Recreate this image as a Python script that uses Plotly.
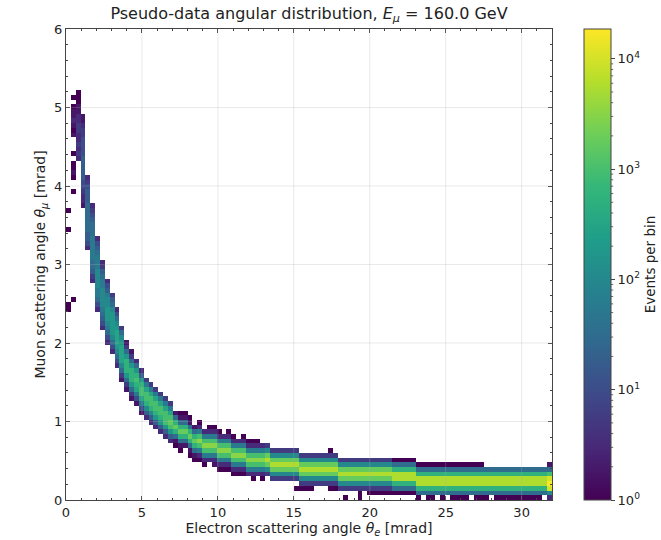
import numpy as np
import plotly.graph_objects as go

# ---------------- data ----------------
# 2D histogram: 100 x-bins over theta_e in [0, 32] mrad, 100 y-bins over theta_mu in [0, 6] mrad
x_lo, x_hi, n_xbins = 0.0, 32.0, 100
y_lo, y_hi, n_ybins = 0.0, 6.0, 100

# count level per cell: character index k in LEVELS -> 10**(k/4) events ('.' = empty)
LEVELS = "0123456789abcdefgh"

# first occupied y-bin of every x-bin column
col_start = [
    40, 42, 72, 62, 53, 46, 40, 36, 33, 31,
    28, 25, 23, 21, 20, 18, 17, 16, 15, 14,
    13, 12, 11, 10, 11, 9, 8, 8, 7, 8,
    7, 6, 6, 6, 5, 5, 5, 5, 4, 5,
    4, 5, 4, 4, 4, 4, 4, 2, 2, 2,
    2, 3, 3, 3, 2, 2, 2, 0, 2, 2,
    0, 2, 1, 1, 1, 1, 1, 1, 1, 1,
    1, 1, 0, 0, 0, 0, 0, 0, 0, 0,
    0, 0, 0, 0, 0, 0, 0, 0, 0, 0,
    0, 0, 0, 0, 0, 0, 0, 0, 0, 0,
]

# cell levels of every column, from the first occupied y-bin upward
col_cells = [
    "00" + "." * 15 + "0...0",
    "0" + "." * 22 + "0..0100.0...1012110.0",
    "232322332211000",
    "12234455555444433211",
    "2455666666555432",
    "23566777776665432",
    "2467788887776542",
    "245678888776532",
    "24678999887542",
    "2468999998653",
    "24689aaa98642",
    "1368aaaa9863",
    "1369bbb9631",
    "1369bbb9631",
    "147abcb962",
    "147accb952",
    "258bcca73",
    "258bcca73",
    "259bcca73",
    "259bcca73",
    "259ccca73",
    "259cdca73",
    "016bdb61",
    "016bdb610",
    "16bdb610",
    "016bdb610",
    "016bdb61",
    "027cec720",
    "027cec72",
    "27cec720",
    "127cec720",
    "027cec720",
    "027cec72",
    "027cec720",
    "027cec720",
    "027cec72",
    "027cec720",
    "27cec720",
    "027cec720",
    "27cec720",
    "027cec72",
    "38dfd83",
    "38dfd83",
    "38dfd83",
    "38dfd83",
    "38dfd83",
    "38dfd83",
    "0.38dfd83",
    "038dfd83",
    "038dfd83",
    "038dfd83",
    "38dfd83",
    "38dfd83",
    "38dfd83",
    "038dfd830",
    "038dfd83",
    "38dfd83",
    "0.38dfd83",
    "38dfd83",
    "38dfd83",
    "0038dfd83",
    "38dfd83",
    "038dfd83",
    "038dfd83",
    "038dfd83",
    "038dfd83",
    "038dfd83",
    "06bffb60",
    "06bffb60",
    "06bffb60",
    "06bffb60",
    "06bffb60",
    "06bffb60",
    ".6bffb60",
    "06bffb60",
    "06bffb60",
    ".6bffb60",
    "06bffb60",
    ".6bffb60",
    "06bffb60",
    "06bffb60",
    "06bffb60",
    "06bffb60",
    ".6bffb60",
    "06bffb60",
    "06bffb60",
    "06bffb6",
    ".6bffb6",
    "06bffb6",
    "06bffb6",
    "06bffb6",
    "06bffb6",
    "06bffb6",
    "06bffb6",
    "06bffb6",
    "06bffb6",
    "06bffb6",
    "06bffb6",
    ".6bffb6",
    "28ghgc61",
]

cbar_log_max = 4.27          # colour scale: 10^0 ... ~1.9e4 events
cbar_major = [0, 1, 2, 3, 4]

# ---------------- build histogram ----------------
x_edges = np.linspace(x_lo, x_hi, n_xbins + 1)
y_edges = np.linspace(y_lo, y_hi, n_ybins + 1)
x_cent = 0.5 * (x_edges[:-1] + x_edges[1:])
y_cent = 0.5 * (y_edges[:-1] + y_edges[1:])

counts = np.full((n_ybins, n_xbins), np.nan)
for i, (s, cells) in enumerate(zip(col_start, col_cells)):
    for k, ch in enumerate(cells):
        if ch != ".":
            counts[s + k, i] = 10 ** (LEVELS.index(ch) / 4.0)

logz = np.log10(counts)

# ---------------- figure geometry ----------------
W, H = 661, 540
L, R, T, B = 66, 109, 29, 40
pw = W - L - R
cb_left_px, cb_right_px = 584, 611
cb_x = (cb_left_px - L) / pw
cb_thick = cb_right_px - cb_left_px

fig = go.Figure()
fig.add_trace(go.Heatmap(
    x=x_cent, y=y_cent, z=logz,
    colorscale="Viridis", zmin=0, zmax=cbar_log_max,
    hoverongaps=False, showscale=True,
    colorbar=dict(
        x=cb_x, xanchor="left", xpad=0,
        y=0.5, yanchor="middle", ypad=0,
        len=1, lenmode="fraction", thickness=cb_thick, thicknessmode="pixels",
        outlinecolor="#444", outlinewidth=1,
        tickvals=cbar_major,
        ticktext=[f"10<sup>{k}</sup>" for k in cbar_major],
        ticks="outside", ticklen=4, tickwidth=1, tickcolor="#444",
        tickfont=dict(size=13, color="#222"),
        title=dict(text="Events per bin", side="right", font=dict(size=13.5, color="#222")),
    ),
))

shapes = []
# grid lines drawn over the histogram (light, semi-transparent)
for gx in [5, 10, 15, 20, 25, 30]:
    shapes.append(dict(type="line", xref="x", yref="paper", x0=gx, x1=gx, y0=0, y1=1,
                       line=dict(color="rgba(176,176,176,0.35)", width=0.8), layer="above"))
for gy in [1, 2, 3, 4, 5]:
    shapes.append(dict(type="line", xref="paper", yref="y", x0=0, x1=1, y0=gy, y1=gy,
                       line=dict(color="rgba(176,176,176,0.35)", width=0.8), layer="above"))
# colourbar minor ticks
cb_right = (cb_right_px - L) / pw
for k in range(0, 5):
    for m in range(2, 10):
        v = np.log10(m * 10 ** k)
        if v < cbar_log_max:
            yy = v / cbar_log_max
            shapes.append(dict(type="line", xref="paper", yref="paper",
                               x0=cb_right, x1=cb_right + 2.2 / pw, y0=yy, y1=yy,
                               line=dict(color="#444", width=0.8)))

axis_common = dict(
    showline=True, linecolor="#444", linewidth=1, mirror="ticks",
    ticks="inside", ticklen=4, tickwidth=1, tickcolor="#444",
    showgrid=False, zeroline=False, automargin=False,
    tickfont=dict(size=13, color="#222"),
)

fig.update_layout(
    width=W, height=H,
    margin=dict(l=L, r=R, t=T, b=B, autoexpand=False),
    paper_bgcolor="white", plot_bgcolor="white",
    font=dict(family="DejaVu Sans", color="#222"),
    title=dict(text="Pseudo-data angular distribution, <i>E</i><sub><i>μ</i></sub> = 160.0 GeV",
               x=0.5, xref="paper", xanchor="center",
               y=1 - 13 / H, yref="container", yanchor="middle",
               font=dict(size=16, color="#222")),
    xaxis=dict(range=[x_lo, x_hi], dtick=5, tick0=0,
               minor=dict(dtick=1, ticks="inside", ticklen=2, tickcolor="#444"),
               title=dict(text="Electron scattering angle <i>θ</i><sub><i>e</i></sub> [mrad]",
                          font=dict(size=14), standoff=2),
               **axis_common),
    yaxis=dict(range=[y_lo, y_hi], dtick=1, tick0=0,
               minor=dict(dtick=0.2, ticks="inside", ticklen=2, tickcolor="#444"),
               title=dict(text="Muon scattering angle <i>θ</i><sub><i>μ</i></sub> [mrad]",
                          font=dict(size=14), standoff=5),
               **axis_common),
    shapes=shapes,
)

fig.write_html("out.html", config={"displayModeBar": False},
               post_script="document.body.style.margin='0';")
